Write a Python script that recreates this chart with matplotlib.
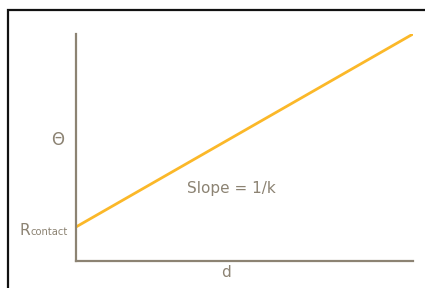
import matplotlib.pyplot as plt
import matplotlib.patches as patches

# data (normalised axes units)
d = [0.0, 1.0]
theta = [0.15, 1.0]

gray = '#8c8373'
orange = '#fbb829'

fig = plt.figure(figsize=(4.25, 2.88), dpi=100)

# outer black frame (runs off the right and bottom edges)
frame = patches.Rectangle((7.5 / 425, -0.1), 1.2, (288 - 9.5) / 288 + 0.1,
                          transform=fig.transFigure, fill=False,
                          edgecolor='#111111', linewidth=1.6)
fig.patches.append(frame)

ax = fig.add_axes([76 / 425, 27 / 288, 337 / 425, 227 / 288])
ax.plot(d, theta, color=orange, linewidth=2, solid_capstyle='butt')
ax.set_xlim(0, 1)
ax.set_ylim(0, 1)
ax.set_xticks([])
ax.set_yticks([])
ax.spines['top'].set_color('none')
ax.spines['right'].set_color('none')
ax.spines['left'].set_color(gray)
ax.spines['bottom'].set_color(gray)
ax.spines['left'].set_linewidth(1.6)
ax.spines['bottom'].set_linewidth(1.6)
ax.patch.set_alpha(0)

ax.text(-0.055, 0.535, '\u0398', transform=ax.transAxes, color=gray,
        fontsize=12, ha='center', va='center')
ax.text(-0.135, 0.115, 'R', transform=ax.transAxes, color=gray,
        fontsize=11, ha='right', va='baseline')
ax.text(-0.134, 0.115, 'contact', transform=ax.transAxes, color=gray,
        fontsize=7.2, ha='left', va='baseline')
ax.text(0.46, 0.32, 'Slope = 1/k', transform=ax.transAxes, color=gray,
        fontsize=11, ha='center', va='center')
ax.text(0.444, -0.05, 'd', transform=ax.transAxes, color=gray,
        fontsize=11, ha='center', va='center')

fig.savefig('out.png', dpi=100)
